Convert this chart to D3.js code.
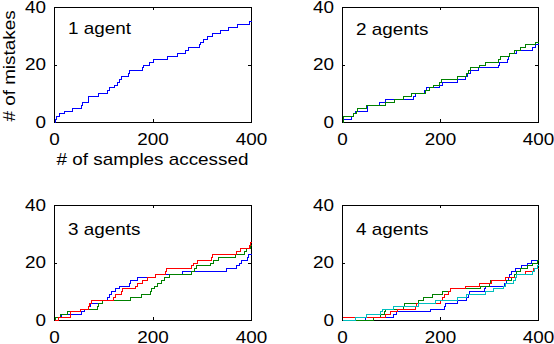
<!DOCTYPE html>
<html lang="en">
<head>
<meta charset="UTF-8">
<title>mistakes vs samples</title>
<style>
  * { margin: 0; padding: 0; }
  body { background: #fff; }
  svg text { font-family: "Liberation Sans", Arial, sans-serif; }
</style>
</head>
<body>
<div id="chart"></div>
<script src="https://cdn.jsdelivr.net/npm/d3@7"></script>
<script>
const W = 554, H = 344
const FS = 16
const SX = 1.18   // original lettering is wider than Arial

const xTicks = [0, 200, 400]
const yTicks = [0, 20, 40]
const colors = ['#0000ff', '#008000', '#ff0000', '#00bfbf']
const titles = ['1 agent', '2 agents', '3 agents', '4 agents']

// [samples accessed, mistakes] at every step of the cumulative count
const one_blue = [[0,0],[2,1],[5,2],[11,3],[20,4],[37,5],[54,6],[56,7],[69,8],[70,9],[89,10],[107,11],[112,12],[122,13],[127,14],[132,15],[137,16],[150,17],[152,18],[179,19],[181,20],[192,21],[202,22],[229,23],[249,24],[266,25],[273,26],[294,27],[296,28],[303,29],[310,30],[321,31],[337,32],[354,33],[372,34],[396,35]]

const two_blue = [[0,1],[19,2],[22,3],[26,4],[50,5],[52,6],[75,7],[87,8],[144,9],[149,10],[168,11],[172,12],[197,13],[205,14],[235,15],[252,16],[256,17],[261,18],[278,19],[319,20],[321,21],[337,22],[338,23],[340,24],[355,25],[388,26],[394,27]]
const two_green = [[0,0],[2,1],[3,2],[22,3],[28,4],[31,5],[49,6],[88,7],[107,8],[125,9],[141,10],[170,11],[177,12],[186,13],[197,14],[202,15],[234,16],[254,17],[258,18],[261,19],[279,20],[292,21],[319,22],[322,23],[340,24],[350,25],[363,26],[373,27],[394,28]]

const three_blue = [[0,0],[9,1],[14,2],[54,3],[61,4],[70,5],[73,6],[97,7],[108,8],[112,9],[116,10],[124,11],[131,12],[152,13],[154,14],[169,15],[205,16],[259,17],[349,18],[370,19],[376,20],[379,21],[391,22],[393,23]]
const three_green = [[0,0],[3,1],[12,2],[26,3],[53,4],[87,5],[90,6],[97,7],[154,8],[176,9],[194,10],[197,11],[203,12],[210,13],[217,14],[224,15],[234,16],[278,17],[284,18],[288,19],[317,20],[323,21],[332,22],[368,23],[386,24],[390,25],[397,26]]
const three_red = [[0,0],[9,1],[32,2],[33,3],[53,4],[70,5],[72,6],[76,7],[120,8],[124,9],[137,10],[139,11],[164,12],[169,13],[178,14],[188,15],[205,16],[226,17],[227,18],[278,19],[282,20],[290,21],[318,22],[320,23],[370,24],[378,25],[395,26],[398,27]]

const four_blue = [[0,0],[46,1],[104,2],[110,3],[180,4],[209,5],[211,6],[234,7],[254,8],[257,9],[259,10],[290,11],[292,12],[331,13],[334,14],[338,15],[341,16],[345,17],[353,18],[365,19],[377,20],[385,21]]
const four_green = [[0,0],[63,1],[78,2],[86,3],[88,4],[125,5],[127,6],[156,7],[166,8],[183,9],[205,10],[220,11],[282,12],[299,13],[302,14],[345,15],[350,16],[356,17],[363,18],[377,19],[387,20],[397,21]]
const four_red = [[0,1],[88,2],[98,3],[112,4],[149,5],[152,6],[201,7],[204,8],[208,9],[216,10],[220,11],[250,12],[280,13],[305,14],[333,15],[356,16],[374,17],[390,18]]
const four_cyan = [[0,0],[27,1],[49,2],[78,3],[81,4],[105,5],[156,6],[190,7],[234,8],[254,9],[292,10],[309,11],[329,12],[333,13],[348,14],[353,15],[356,16],[387,17],[392,18],[397,19]]

// plot boxes: left, top, right, bottom
const panels = [
  { box: [54, 7, 251, 122], series: [one_blue], title: titles[0], ty: 27 },
  { box: [342, 7, 538, 122], series: [two_blue, two_green], title: titles[1], ty: 28 },
  { box: [54, 205, 251, 320], series: [three_blue, three_green, three_red], title: titles[2], ty: 30 },
  { box: [342, 205, 538, 320], series: [four_blue, four_green, four_red, four_cyan], title: titles[3], ty: 30 }
]

const svg = d3.select('#chart').append('svg')
    .attr('width', W)
    .attr('height', H)

svg.append('rect').attr('width', W).attr('height', H).attr('fill', '#fff')

function styleText(sel) {
  sel.selectAll('text')
      .attr('font-size', FS)
      .attr('fill', '#000')
      .attr('transform', `scale(${SX},1)`)
}

panels.forEach((p) => {
  const [l, t, r, b] = p.box
  const x = d3.scaleLinear().domain([0, 400]).range([l, r])
  const y = d3.scaleLinear().domain([0, 40]).range([b, t])
  const g = svg.append('g')

  g.append('g')
      .attr('transform', `translate(0,${b})`)
      .call(d3.axisBottom(x).tickValues(xTicks).tickSizeInner(-3).tickSizeOuter(0).tickPadding(12))
      .call(styleText)
  g.append('g')
      .attr('transform', `translate(0,${t})`)
      .call(d3.axisTop(x).tickValues(xTicks).tickSizeInner(-3).tickSizeOuter(0).tickFormat(''))
  g.append('g')
      .attr('transform', `translate(${l},0)`)
      .call(d3.axisLeft(y).tickValues(yTicks).tickSizeInner(-3).tickSizeOuter(0).tickPadding(8 / SX))
      .call(styleText)
  g.append('g')
      .attr('transform', `translate(${r},0)`)
      .call(d3.axisRight(y).tickValues(yTicks).tickSizeInner(-3).tickSizeOuter(0).tickFormat(''))
  g.selectAll('path, line').attr('shape-rendering', 'crispEdges')

  const line = d3.line()
      .x((d) => Math.round(x(d[0])) + 0.5)
      .y((d) => Math.round(y(d[1])) + 0.5)
      .curve(d3.curveStepAfter)

  p.series.forEach((s, i) => {
    const pts = s.concat([[400, s[s.length - 1][1]]])
    g.append('path')
        .attr('d', line(pts))
        .attr('fill', 'none')
        .attr('stroke', colors[i])
        .attr('stroke-width', 1)
        .attr('shape-rendering', 'crispEdges')
  })

  g.append('text')
      .attr('transform', `translate(${l + 14},${t + p.ty}) scale(${SX},1)`)
      .attr('font-size', FS)
      .text(p.title)
})

// axis titles, first panel only
svg.append('text')
    .attr('transform', `translate(152.5,165) scale(${SX},1)`)
    .attr('text-anchor', 'middle')
    .attr('font-size', FS)
    .text('# of samples accessed')

svg.append('text')
    .attr('transform', `translate(15,66) rotate(-90) scale(${SX},1)`)
    .attr('text-anchor', 'middle')
    .attr('font-size', FS)
    .text('# of mistakes')
</script>
</body>
</html>
